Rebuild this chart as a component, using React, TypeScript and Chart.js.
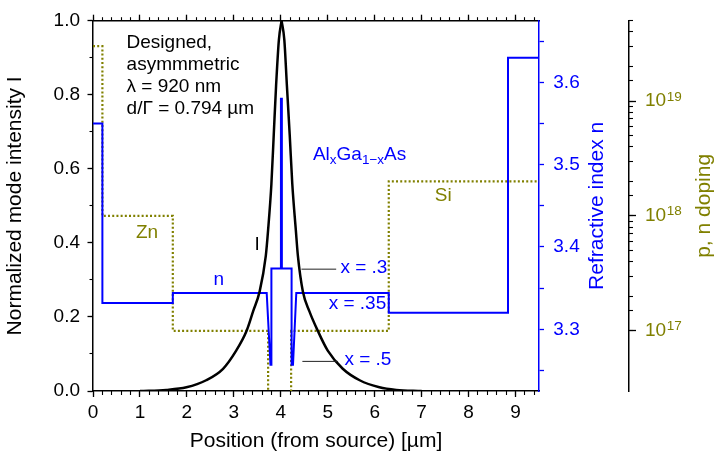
import React, { useEffect, useRef } from 'react';
import { Chart, registerables } from 'chart.js';

Chart.register(...registerables);

const FONT = "'Liberation Sans', Arial, Helvetica, sans-serif";
const BLUE = '#0000ff';
const OLIVE = '#808000';
const BLACK = '#000000';

// Normalized mode intensity I (left axis)
const intensityX = [1.0, 1.56, 1.99, 2.41, 2.77, 3.05, 3.27, 3.41, 3.55, 3.68, 3.73, 3.80, 3.85, 3.90, 3.96, 4.017,
  4.075, 4.13, 4.19, 4.245, 4.32, 4.365, 4.47, 4.61, 4.79, 5.00, 5.32, 5.68, 6.10, 6.46, 7.0];
const intensityI = [0.0, 0.003, 0.010, 0.029, 0.060, 0.109, 0.162, 0.215, 0.269, 0.364, 0.435, 0.559, 0.692, 0.825, 0.949, 1.0,
  0.949, 0.825, 0.692, 0.559, 0.435, 0.364, 0.269, 0.215, 0.162, 0.109, 0.060, 0.029, 0.010, 0.003, 0.0];

// Refractive index n (blue right axis)
const indexX = [0, 0.2, 0.2, 1.70, 1.70, 3.70, 3.78, 3.80, 3.80, 4.003, 4.003, 4.023, 4.023, 4.23, 4.23, 4.26, 4.33, 6.30, 6.30, 8.84, 8.84, 9.5];
const indexN = [3.550, 3.550, 3.332, 3.332, 3.344, 3.344, 3.257, 3.257, 3.374, 3.374, 3.580, 3.580, 3.374, 3.374, 3.257, 3.257, 3.344, 3.344, 3.320, 3.320, 3.630, 3.630];

// p, n doping (log right axis)
const dopingX = [0, 0.2, 0.2, 1.70, 1.70, 3.73, 3.73, 4.22, 4.22, 6.30, 6.30, 9.5];
const dopingN = [3e19, 3e19, 1e18, 1e18, 1e17, 1e17, 1e15, 1e15, 1e17, 1e17, 2e18, 2e18];

// Leader lines for layer labels
const leader1X = [4.44, 5.18];
const leader1I = [0.329, 0.329];
const leader2X = [4.46, 5.22];
const leader2I = [0.080, 0.080];

// Tick values and labels
const xMajorTicks = [0, 1, 2, 3, 4, 5, 6, 7, 8, 9];
const xMajorLabels = ['0', '1', '2', '3', '4', '5', '6', '7', '8', '9'];
const yMajorTicks = [0, 0.2, 0.4, 0.6, 0.8, 1.0];
const yMajorLabels = ['0.0', '0.2', '0.4', '0.6', '0.8', '1.0'];
const nTicks = [3.25, 3.3, 3.35, 3.4, 3.45, 3.5, 3.55, 3.6, 3.65];
const nTickLabels = ['', '3.3', '', '3.4', '', '3.5', '', '3.6', ''];
const dopMajorTicks = [1e17, 1e18, 1e19];
const dopMajorBases = ['10', '10', '10'];
const dopMajorExponents = ['17', '18', '19'];

type Run = { t: string; sub?: boolean };
const annotations: { runs: Run[]; x: number; y: number; color: string }[] = [
  { runs: [{ t: 'Designed,' }], x: 0.715, y: 0.925, color: BLACK },
  { runs: [{ t: 'asymmmetric' }], x: 0.715, y: 0.867, color: BLACK },
  { runs: [{ t: 'λ = 920 nm' }], x: 0.715, y: 0.808, color: BLACK },
  { runs: [{ t: 'd/Γ = 0.794 µm' }], x: 0.715, y: 0.749, color: BLACK },
  { runs: [{ t: 'Al' }, { t: 'x', sub: true }, { t: 'Ga' }, { t: '1−x', sub: true }, { t: 'As' }], x: 4.684, y: 0.623, color: BLUE },
  { runs: [{ t: 'Zn' }], x: 0.915, y: 0.412, color: OLIVE },
  { runs: [{ t: 'Si' }], x: 7.28, y: 0.513, color: OLIVE },
  { runs: [{ t: 'n' }], x: 2.565, y: 0.286, color: BLUE },
  { runs: [{ t: 'I' }], x: 3.44, y: 0.381, color: BLACK },
  { runs: [{ t: 'x = .3' }], x: 5.27, y: 0.320, color: BLUE },
  { runs: [{ t: 'x = .35' }], x: 5.02, y: 0.2226, color: BLUE },
  { runs: [{ t: 'x = .5' }], x: 5.355, y: 0.0691, color: BLUE },
];

const zip = (xs: number[], ys: number[]) => xs.map((x, i) => ({ x, y: ys[i] }));

const TICK_SIZE = 19;
const DOP_TICK_LEN = 7;
const DOP_TICK_PAD = 9;

const annotationPlugin = {
  id: 'annotationsText',
  afterDraw(chart: any) {
    const { ctx, scales } = chart;
    const xs = scales.x;
    const ys = scales.y;
    ctx.save();
    ctx.textBaseline = 'alphabetic';
    ctx.textAlign = 'left';
    for (const a of annotations) {
      ctx.fillStyle = a.color;
      let px = xs.getPixelForValue(a.x);
      const py = ys.getPixelForValue(a.y);
      for (const r of a.runs) {
        ctx.font = `${r.sub ? 13.5 : 19}px ${FONT}`;
        ctx.fillText(r.t, px, py + (r.sub ? 4 : 0));
        px += ctx.measureText(r.t).width;
      }
    }
    // exponents of the doping tick labels
    const dop = scales.dop;
    ctx.fillStyle = OLIVE;
    dopMajorTicks.forEach((v, i) => {
      ctx.font = `${TICK_SIZE}px ${FONT}`;
      const w = ctx.measureText(dopMajorBases[i]).width;
      const x0 = dop.left + DOP_TICK_LEN + DOP_TICK_PAD + w;
      const py = dop.getPixelForValue(v);
      ctx.font = `13.5px ${FONT}`;
      ctx.fillText(dopMajorExponents[i], x0 + 0.5, py - 0.5);
    });
    // right-side axis titles, reading bottom-to-top
    const drawRot = (text: string, x: number, y: number, color: string) => {
      ctx.save();
      ctx.translate(x, y);
      ctx.rotate(-Math.PI / 2);
      ctx.textAlign = 'center';
      ctx.textBaseline = 'alphabetic';
      ctx.font = `21px ${FONT}`;
      ctx.fillStyle = color;
      ctx.fillText(text, 0, 0);
      ctx.restore();
    };
    const ca = chart.chartArea;
    const midY = (ca.top + ca.bottom) / 2;
    drawRot('Refractive index n', scales.n.left + 64.3, midY, BLUE);
    drawRot('p, n doping', scales.dop.left + 81, midY, OLIVE);
    ctx.restore();
  },
};

const tickFont = { family: FONT, size: TICK_SIZE };
const titleFont = { family: FONT, size: 21 };

export default function App() {
  const ref = useRef<HTMLCanvasElement>(null);
  useEffect(() => {
    const peak = intensityI.indexOf(Math.max(...intensityI));
    const chart = new Chart(ref.current!, {
      type: 'line',
      data: {
        datasets: [
          {
            data: zip(intensityX.slice(0, peak + 1), intensityI.slice(0, peak + 1)),
            yAxisID: 'y', borderColor: BLACK, borderWidth: 2.5, pointRadius: 0,
            cubicInterpolationMode: 'monotone', order: 1,
          },
          {
            data: zip(intensityX.slice(peak), intensityI.slice(peak)),
            yAxisID: 'y', borderColor: BLACK, borderWidth: 2.5, pointRadius: 0,
            cubicInterpolationMode: 'monotone', order: 1,
          },
          {
            data: zip(indexX, indexN),
            yAxisID: 'n', borderColor: BLUE, borderWidth: 2, pointRadius: 0, tension: 0, order: 2,
          },
          {
            data: zip(dopingX, dopingN),
            yAxisID: 'dop', borderColor: OLIVE, borderWidth: 2.2, borderDash: [2, 2.2], pointRadius: 0, tension: 0, order: 3,
          },
          {
            data: zip(leader1X, leader1I),
            yAxisID: 'y', borderColor: '#222', borderWidth: 1, pointRadius: 0, order: 0,
          },
          {
            data: zip(leader2X, leader2I),
            yAxisID: 'y', borderColor: '#222', borderWidth: 1, pointRadius: 0, order: 0,
          },
        ],
      },
      options: {
        responsive: false,
        animation: false,
        events: [],
        layout: { padding: 0 },
        plugins: { legend: { display: false }, tooltip: { enabled: false } },
        scales: {
          x: {
            type: 'linear', axis: 'x', position: 'bottom', weight: 1, min: 0, max: 9.5,
            afterBuildTicks: (s: any) => { s.ticks = xMajorTicks.map((v) => ({ value: v })); },
            afterFit: (s: any) => { s.height = 63; },
            ticks: { font: tickFont, color: BLACK, padding: 4.6, autoSkip: false, maxRotation: 0,
              callback: (_v: any, i: number) => xMajorLabels[i] },
            grid: { drawOnChartArea: false, tickLength: 6, tickColor: BLACK, tickWidth: 1.3 },
            border: { color: BLACK, width: 1.5 },
            title: { display: true, text: 'Position (from source) [µm]', font: titleFont, color: BLACK, padding: { top: 0, bottom: 0.4 } },
          },
          xMinor: {
            type: 'linear', axis: 'x', position: 'bottom', weight: 0, min: 0, max: 9.5,
            afterFit: (s: any) => { s.height = 0; },
            ticks: { display: false, stepSize: 0.2, includeBounds: false },
            grid: { drawOnChartArea: false, tickLength: 4, tickColor: BLACK, tickWidth: 1.1 },
            border: { display: false },
          },
          xTop: {
            type: 'linear', axis: 'x', position: 'top', weight: 1, min: 0, max: 9.5,
            afterBuildTicks: (s: any) => { s.ticks = xMajorTicks.map((v) => ({ value: v })); },
            afterFit: (s: any) => { s.height = 15; },
            ticks: { display: false },
            grid: { drawOnChartArea: false, tickLength: 6, tickColor: BLACK, tickWidth: 1.3 },
            border: { color: BLACK, width: 1.5 },
          },
          xTopMinor: {
            type: 'linear', axis: 'x', position: 'top', weight: 0, min: 0, max: 9.5,
            afterFit: (s: any) => { s.height = 0; },
            ticks: { display: false, stepSize: 0.2, includeBounds: false },
            grid: { drawOnChartArea: false, tickLength: 3.5, tickColor: BLACK, tickWidth: 1.1 },
            border: { display: false },
          },
          y: {
            type: 'linear', axis: 'y', position: 'left', weight: 1, min: 0, max: 1,
            afterBuildTicks: (s: any) => { s.ticks = yMajorTicks.map((v) => ({ value: v })); },
            afterFit: (s: any) => { s.width = 93; },
            ticks: { font: tickFont, color: BLACK, padding: 7.5, autoSkip: false,
              callback: (_v: any, i: number) => yMajorLabels[i] },
            grid: { drawOnChartArea: false, tickLength: 5.5, tickColor: BLACK, tickWidth: 1.3 },
            border: { color: BLACK, width: 1.5 },
            title: { display: true, text: 'Normalized mode intensity I', font: titleFont, color: BLACK, padding: { top: 2.8, bottom: 0 } },
          },
          yMinor: {
            type: 'linear', axis: 'y', position: 'left', weight: 0, min: 0, max: 1,
            afterFit: (s: any) => { s.width = 0; },
            ticks: { display: false, stepSize: 0.1, includeBounds: false },
            grid: { drawOnChartArea: false, tickLength: 3.5, tickColor: BLACK, tickWidth: 1.1 },
            border: { display: false },
          },
          n: {
            type: 'linear', axis: 'y', position: 'right', weight: 0, min: 3.225, max: 3.675,
            afterBuildTicks: (s: any) => { s.ticks = nTicks.map((v) => ({ value: v })); },
            afterFit: (s: any) => { s.width = 90; },
            ticks: { font: tickFont, color: BLUE, padding: 9.3, autoSkip: false,
              callback: (_v: any, i: number) => nTickLabels[i] },
            grid: { drawOnChartArea: false, tickLength: 5, tickColor: BLUE, tickWidth: 1.3 },
            border: { color: BLUE, width: 1.5 },
          },
          dopMinor: {
            type: 'logarithmic', axis: 'y', position: 'right', weight: 1, min: 3e16, max: 5e19,
            afterBuildTicks: (s: any) => { s.ticks = s.ticks.filter((t: any) => t.value >= 0.999e17); },
            afterFit: (s: any) => { s.width = 0; },
            ticks: { display: false },
            grid: { drawOnChartArea: false, tickLength: 4, tickColor: BLACK, tickWidth: 1.1 },
            border: { display: false },
          },
          dop: {
            type: 'logarithmic', axis: 'y', position: 'right', weight: 2, min: 3e16, max: 5e19,
            afterBuildTicks: (s: any) => { s.ticks = dopMajorTicks.map((v) => ({ value: v })); },
            afterFit: (s: any) => { s.width = 85; },
            ticks: { font: tickFont, color: OLIVE, padding: DOP_TICK_PAD, autoSkip: false,
              callback: (_v: any, i: number) => dopMajorBases[i] },
            grid: { drawOnChartArea: false, tickLength: DOP_TICK_LEN, tickColor: BLACK, tickWidth: 1.3 },
            border: { color: BLACK, width: 1.5 },
          },
        },
      } as any,
      plugins: [annotationPlugin],
    } as any);
    return () => chart.destroy();
  }, []);
  return (
    <div style={{ position: 'absolute', left: 0, top: 0, width: 714, height: 454, background: '#fff' }}>
      <canvas ref={ref} width={714} height={454} style={{ display: 'block', width: 714, height: 454 }} />
    </div>
  );
}
